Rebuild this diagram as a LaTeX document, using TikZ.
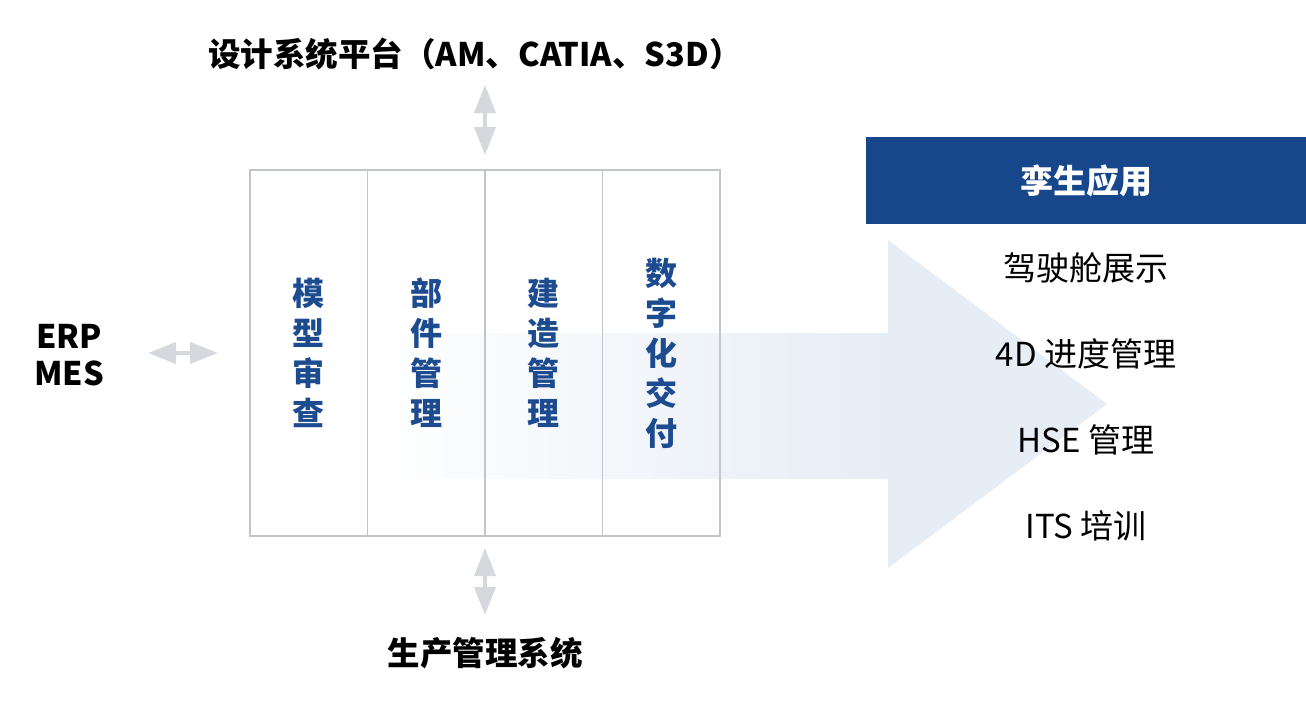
\documentclass[tikz,border=0pt]{standalone}
\usepackage{fontspec}
\setmainfont{Noto Sans CJK SC}
\usepackage{xcolor}
\usepackage{tikz}
\usetikzlibrary{arrows.meta,positioning}
\definecolor{twinblue}{HTML}{17478A}
\definecolor{colblue}{HTML}{1D4B8F}
\definecolor{linkgray}{HTML}{D5D9DE}
\definecolor{boxgray}{HTML}{C2C6CB}
\definecolor{flowfill}{HTML}{E6EDF5}

\begin{document}
\begin{tikzpicture}[x=1pt,y=-1pt,
		col/.style={draw=boxgray, line width=1.2pt, minimum width=117.5pt, minimum height=366pt, inner sep=0pt, outer sep=0pt, text=colblue, align=center, font=\bfseries\fontsize{32}{40}\selectfont},
		link/.style={draw=linkgray, line width=4pt, {Triangle[length=28pt,width=21pt]}-{Triangle[length=28pt,width=21pt]}},
		side/.style={align=center, font=\bfseries\fontsize{32.5}{37}\selectfont},
		item/.style={font=\fontsize{33}{36}\selectfont}]
	\useasboundingbox (0,0) rectangle (1306,715);
	
	% big arrow behind the columns
	\fill[flowfill] (888,240) -- (1107,404) -- (888,568) -- cycle;
	\shade[left color=flowfill!5!white, right color=flowfill] (399,333) rectangle (888,478);
	
	\node[col] (review) at (308.75,353) {模\\型\\审\\查};
	\node[col, right=0pt of review] (parts) {部\\件\\管\\理};
	\node[col, right=0pt of parts] (build) {建\\造\\管\\理};
	\node[col, right=0pt of build] (deliver) {数\\字\\化\\交\\付};
	
	\node[side] (design) at (475,54) {设计系统平台（AM、CATIA、S3D）};
	\node[side] (erp) at (69,355) {ERP\\MES};
	\node[side] (prod) at (485,653) {生产管理系统};
	
	\coordinate (designtip) at (485,85);
	\coordinate (erptip) at (148,353);
	\coordinate (prodtip) at (485,615);
	\draw[link, shorten >=15pt] (designtip) -- (parts.north east);
	\draw[link, shorten >=32pt] (erptip) -- (review.west);
	\draw[link, shorten >=12pt] (prodtip) -- (parts.south east);
	
	\node[fill=twinblue, text=white, minimum width=440pt, minimum height=87pt, font=\bfseries\fontsize{33}{36}\selectfont] (twin) at (1086,180.5) {孪生应用};
	\foreach \y/\txt in {268/驾驶舱展示,354/4D 进度管理,440/HSE 管理,526/ITS 培训}{
		\node[item] (app\y) at (1086,\y) {\txt};
	}
\end{tikzpicture}
\end{document}
